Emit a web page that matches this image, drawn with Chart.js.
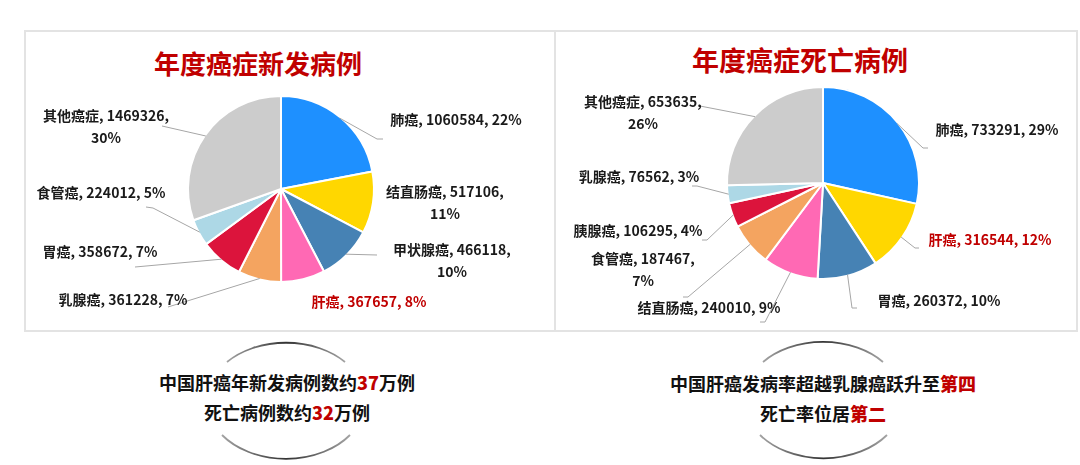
<!DOCTYPE html>
<html>
<head>
<meta charset="utf-8">
<script src="https://cdn.jsdelivr.net/npm/chart.js@4/dist/chart.umd.min.js"></script>
<style>
  body { margin: 0; background: #fff; font-family: "Noto Sans CJK SC", sans-serif; }
  #stage { position: relative; width: 1080px; height: 465px; overflow: hidden; }
  .box { position: absolute; left: 24px; top: 30px; width: 1054px; height: 302px; border: 2px solid #e3e3e3; box-sizing: border-box; }
  .divider { position: absolute; left: 554px; top: 30px; width: 2px; height: 302px; background: #e3e3e3; }
  .title { position: absolute; width: 400px; text-align: center; font-weight: bold; color: #c00000; line-height: 30px; }
  .caption { position: absolute; width: 400px; text-align: center; font-weight: bold; font-size: 18px; line-height: 30px; color: #111; }
  .caption b { color: #c00000; }
  canvas { position: absolute; left: 0; top: 0; }
  svg { position: absolute; left: 0; top: 0; }
</style>
</head>
<body>
<div id="stage">
  <div class="box"></div>
  <div class="divider"></div>
  <div class="title" style="left:58px; top:48px; font-size:26px;">年度癌症新发病例</div>
  <div class="title" style="left:600px; top:45px; font-size:27px;">年度癌症死亡病例</div>

  <svg width="1080" height="465">
    <defs>
      <linearGradient id="fade" x1="0" x2="1" y1="0" y2="0">
        <stop offset="0" stop-color="#333" stop-opacity="0.45"/>
        <stop offset="0.5" stop-color="#333" stop-opacity="1"/>
        <stop offset="1" stop-color="#333" stop-opacity="0.45"/>
      </linearGradient>
    </defs>
    <path d="M227,362 A79,57.5 0 0 1 345,362" fill="none" stroke="url(#fade)" stroke-width="1.8"/>
    <path d="M222,435 A79,57.5 0 0 0 350,435" fill="none" stroke="url(#fade)" stroke-width="1.8"/>
    <path d="M763,362 A79,57.5 0 0 1 883,362" fill="none" stroke="url(#fade)" stroke-width="1.8"/>
    <path d="M760,435 A79,57.5 0 0 0 887,435" fill="none" stroke="url(#fade)" stroke-width="1.8"/>
  </svg>

  <div class="caption" style="left:87px; top:367px;">中国肝癌年新发病例数约<b>37</b>万例<br>死亡病例数约<b>32</b>万例</div>
  <div class="caption" style="left:623px; top:368px;">中国肝癌发病率超越乳腺癌跃升至<b>第四</b><br>死亡率位居<b>第二</b></div>

  <canvas id="newChart" width="1080" height="465"></canvas>
  <canvas id="deathChart" width="1080" height="465"></canvas>
</div>

<script>
// 新发病例
const newLabels = ['肺癌', '结直肠癌', '甲状腺癌', '肝癌', '乳腺癌', '胃癌', '食管癌', '其他癌症'];
const newCases = [1060584, 517106, 466118, 367657, 361228, 358672, 224012, 1469326];
const newPct = [22, 11, 10, 8, 7, 7, 5, 30];

// 死亡病例
const deathLabels = ['肺癌', '肝癌', '胃癌', '结直肠癌', '食管癌', '胰腺癌', '乳腺癌', '其他癌症'];
const deathCases = [733291, 316544, 260372, 240010, 187467, 106295, 76562, 653635];
const deathPct = [29, 12, 10, 9, 7, 4, 3, 26];

const sliceColors = ['#1e90ff', '#ffd700', '#4682b4', '#ff69b4', '#f4a460', '#dc143c', '#add8e6', '#cccccc'];

// label placement (page coords): text centre, wrap to two lines, leader path
const newLayout = [
  { x: 456, y: 120, leader: [[377, 139], [383, 139]] },
  { x: 445, y: 192, wrap: true },
  { x: 452, y: 250, wrap: true, leader: [[377, 255]] },
  { x: 369, y: 302, red: true },
  { x: 123, y: 300, leader: [[168, 307]] },
  { x: 100, y: 252, leader: [[135, 267]] },
  { x: 101, y: 193, leader: [[153, 208], [146, 207]] },
  { x: 106, y: 116, wrap: true, leader: [[162, 126]] }
];
const deathLayout = [
  { x: 997, y: 130, leader: [[923, 148], [928, 148]] },
  { x: 990, y: 240, red: true, leader: [[915, 248], [919, 248]] },
  { x: 939, y: 301, leader: [[852, 308], [857, 308]] },
  { x: 709, y: 308, leader: [[765, 322], [760, 322]] },
  { x: 643, y: 259, wrap: true, leader: [[688, 297], [683, 297]] },
  { x: 638, y: 231, leader: [[707, 240], [702, 240]] },
  { x: 639, y: 177, leader: [[697, 186], [692, 186]] },
  { x: 643, y: 102, wrap: true, leader: [[700, 106]] }
];

const outLabels = {
  id: 'outLabels',
  afterDatasetsDraw(chart, args, opts) {
    const ctx = chart.ctx;
    const meta = chart.getDatasetMeta(0);
    const values = chart.data.datasets[0].data;
    ctx.save();
    meta.data.forEach((arc, i) => {
      const p = opts.layout[i];
      const { x, y, startAngle, endAngle, outerRadius } = arc.getProps(['x', 'y', 'startAngle', 'endAngle', 'outerRadius'], true);
      const mid = (startAngle + endAngle) / 2;
      if (p.leader) {
        ctx.strokeStyle = '#a6a6a6';
        ctx.lineWidth = 1;
        ctx.beginPath();
        ctx.moveTo(x + Math.cos(mid) * (outerRadius - 1), y + Math.sin(mid) * (outerRadius - 1));
        p.leader.forEach(pt => ctx.lineTo(pt[0], pt[1]));
        ctx.stroke();
      }
      const name = chart.data.labels[i];
      const lines = p.wrap
        ? [`${name}, ${values[i]},`, `${opts.pct[i]}%`]
        : [`${name}, ${values[i]}, ${opts.pct[i]}%`];
      ctx.font = 'bold 14px "Noto Sans CJK SC"';
      ctx.fillStyle = p.red ? '#c00000' : '#1a1a1a';
      ctx.textAlign = 'center';
      ctx.textBaseline = 'middle';
      lines.forEach((t, k) => ctx.fillText(t, p.x, p.y + k * 22));
    });
    ctx.restore();
  }
};

function makePie(id, labels, values, pct, layout, padding) {
  return new Chart(document.getElementById(id), {
    type: 'pie',
    data: {
      labels: labels,
      datasets: [{
        data: values,
        backgroundColor: sliceColors,
        borderColor: '#ffffff',
        borderWidth: 2
      }]
    },
    options: {
      responsive: false,
      animation: false,
      devicePixelRatio: 1,
      layout: { padding: padding },
      events: [],
      plugins: {
        legend: { display: false },
        tooltip: { enabled: false },
        outLabels: { layout: layout, pct: pct }
      }
    },
    plugins: [outLabels]
  });
}

makePie('newChart', newLabels, newCases, newPct, newLayout, { left: 187, right: 705, top: 95, bottom: 182 });
makePie('deathChart', deathLabels, deathCases, deathPct, deathLayout, { left: 726, right: 160, top: 86, bottom: 185 });
</script>
</body>
</html>
